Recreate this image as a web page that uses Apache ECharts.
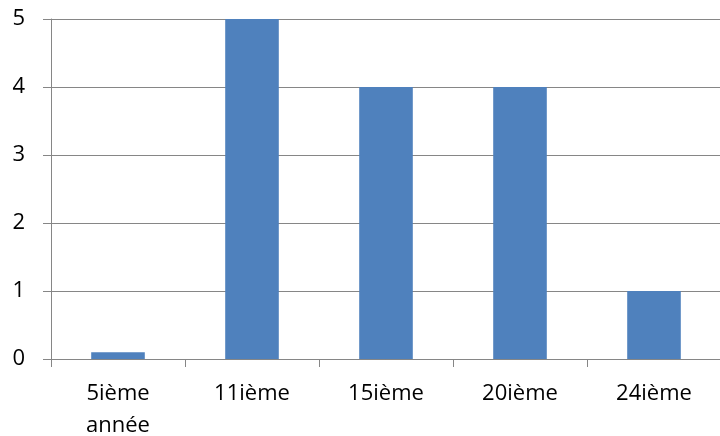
<!DOCTYPE html>
<html><head><meta charset="utf-8">
<script src="https://cdn.jsdelivr.net/npm/echarts@6/dist/echarts.min.js"></script>
<style>html,body{margin:0;padding:0;background:#fff}#c{width:720px;height:436px}</style>
</head><body><div id="c"></div>
<script>
const categories = ['5ième\nannée', '11ième', '15ième', '20ième', '24ième'];
const values = [0.1, 5, 4, 4, 1];
const yTicks = [0, 1, 2, 3, 4, 5];

const chart = echarts.init(document.getElementById('c'), null, {renderer: 'canvas'});
const font = 'Open Sans';
chart.setOption({
  animation: false,
  grid: {left: 51, right: -1, top: 19, bottom: 77, containLabel: false, outerBoundsMode: 'none'},
  xAxis: {
    type: 'category', data: categories,
    axisLine: {lineStyle: {color: '#868686', width: 1}},
    axisTick: {show: true, length: 8, alignWithLabel: false, lineStyle: {color: '#868686'}},
    axisLabel: {color: '#000', fontFamily: font, fontSize: 22, margin: 19, lineHeight: 32, interval: 0}
  },
  yAxis: {
    type: 'value', min: yTicks[0], max: yTicks[yTicks.length - 1], interval: 1,
    axisLine: {show: true, lineStyle: {color: '#868686', width: 1}},
    axisTick: {show: true, length: 8, lineStyle: {color: '#868686'}},
    splitLine: {lineStyle: {color: '#868686', width: 1}},
    axisLabel: {color: '#000', fontFamily: font, fontSize: 22, margin: 26}
  },
  series: [{
    type: 'bar', data: values, barWidth: '40%',
    itemStyle: {color: '#4F81BD'}
  }]
});
</script></body></html>
